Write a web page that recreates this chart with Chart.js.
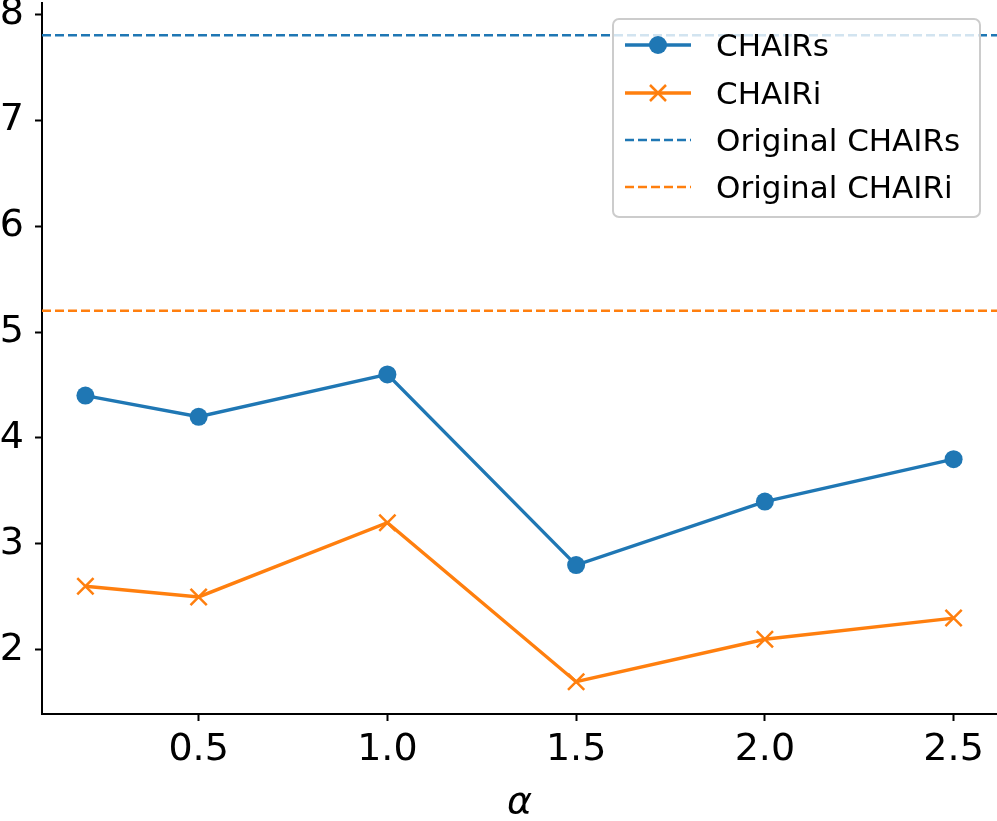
<!DOCTYPE html>
<html>
<head>
<meta charset="utf-8">
<script src="https://cdn.jsdelivr.net/npm/chart.js@4.4.1/dist/chart.umd.min.js"></script>
<style>
  html, body { margin: 0; padding: 0; background: #fff; }
  canvas { display: block; }
</style>
</head>
<body>
<canvas id="grafico" width="997" height="821"></canvas>
<script>
// datos
const alphas = [0.2, 0.5, 1.0, 1.5, 2.0, 2.5];
const chairS = [4.4, 4.2, 4.6, 2.8, 3.4, 3.8];
const chairI = [2.6, 2.5, 3.2, 1.7, 2.1, 2.3];
const originalS = 7.8;
const originalI = 5.2;
const xTicks = [0.5, 1.0, 1.5, 2.0, 2.5];
const yTicks = [2, 3, 4, 5, 6, 7, 8];

const azul = "#1f77b4";
const naranja = "#ff7f0e";

// margenes tipo matplotlib (5%)
const xMin = 0.085, xMax = 2.615;
const yMin = 1.395, yMax = 8.105;

const puntos = (xs, ys) => xs.map((x, i) => ({ x: x, y: ys[i] }));
const horizontal = (v) => [{ x: xMin, y: v }, { x: xMax, y: v }];

// leyenda dibujada a mano, estilo matplotlib
const leyenda = {
  id: "leyenda",
  afterDraw(chart) {
    const ctx = chart.ctx;
    const x0 = 613, y0 = 19, w = 367, h = 198, r = 6;
    ctx.save();
    ctx.beginPath();
    ctx.roundRect(x0, y0, w, h, r);
    ctx.fillStyle = "rgba(255,255,255,0.8)";
    ctx.fill();
    ctx.lineWidth = 2;
    ctx.strokeStyle = "#cccccc";
    ctx.stroke();

    const filas = [45, 93, 140, 187];
    chart.data.datasets.forEach((ds, i) => {
      const cy = filas[i];
      ctx.beginPath();
      ctx.setLineDash(ds.borderDash || []);
      ctx.strokeStyle = ds.borderColor;
      ctx.lineWidth = ds.borderWidth;
      ctx.moveTo(625, cy);
      ctx.lineTo(691, cy);
      ctx.stroke();
      ctx.setLineDash([]);
      if (ds.pointStyle === "circle") {
        ctx.beginPath();
        ctx.arc(658, cy, 9, 0, Math.PI * 2);
        ctx.fillStyle = ds.borderColor;
        ctx.fill();
      } else if (ds.pointStyle === "crossRot") {
        ctx.beginPath();
        ctx.lineWidth = 2.5;
        ctx.moveTo(650, cy - 8); ctx.lineTo(666, cy + 8);
        ctx.moveTo(650, cy + 8); ctx.lineTo(666, cy - 8);
        ctx.stroke();
      }
      ctx.fillStyle = "#000";
      ctx.font = "31px 'DejaVu Sans'";
      ctx.textBaseline = "alphabetic";
      ctx.fillText(ds.label, 716, cy + 11);
    });
    ctx.restore();
  }
};

const ctx = document.getElementById("grafico").getContext("2d");

new Chart(ctx, {
  type: "line",
  data: {
    datasets: [
      {
        label: "CHAIRs",
        data: puntos(alphas, chairS),
        borderColor: azul,
        backgroundColor: azul,
        borderWidth: 3.4,
        pointStyle: "circle",
        pointRadius: 9,
        pointBorderWidth: 0,
        order: 4
      },
      {
        label: "CHAIRi",
        data: puntos(alphas, chairI),
        borderColor: naranja,
        backgroundColor: naranja,
        borderWidth: 3.4,
        pointStyle: "crossRot",
        pointRadius: 11.5,
        pointBorderWidth: 2.5,
        order: 3
      },
      {
        label: "Original CHAIRs",
        data: horizontal(originalS),
        borderColor: azul,
        borderWidth: 2.4,
        borderDash: [9, 4],
        pointRadius: 0,
        order: 2
      },
      {
        label: "Original CHAIRi",
        data: horizontal(originalI),
        borderColor: naranja,
        borderWidth: 2.4,
        borderDash: [9, 4],
        pointRadius: 0,
        order: 1
      }
    ]
  },
  options: {
    responsive: false,
    animation: false,
    devicePixelRatio: 1,
    layout: { autoPadding: false, padding: { top: 3, right: 0, left: 0, bottom: 0 } },
    plugins: {
      legend: { display: false },
      tooltip: { enabled: false }
    },
    scales: {
      x: {
        type: "linear",
        min: xMin,
        max: xMax,
        afterBuildTicks: (s) => { s.ticks = xTicks.map(v => ({ value: v })); },
        afterFit: (s) => {
          s.height = 107;
          s.paddingLeft = 0; s.paddingRight = 0;
        },
        ticks: {
          color: "#000",
          font: { family: "DejaVu Sans", size: 38 },
          padding: 6,
          maxRotation: 0,
          callback: (v) => Number(v).toFixed(1)
        },
        grid: {
          drawOnChartArea: false,
          tickLength: 7,
          tickColor: "#000",
          tickWidth: 2
        },
        border: { display: true, color: "#000", width: 2 },
        title: {
          display: true,
          text: "α",
          color: "#000",
          font: { family: "DejaVu Sans", size: 38, style: "italic" },
          padding: { top: 0, bottom: -5 }
        }
      },
      y: {
        min: yMin,
        max: yMax,
        afterBuildTicks: (s) => { s.ticks = yTicks.map(v => ({ value: v })); },
        afterFit: (s) => {
          s.width = 42;
          s.paddingTop = 0; s.paddingBottom = 0;
        },
        ticks: {
          color: "#000",
          font: { family: "DejaVu Sans", size: 38 },
          padding: 11
        },
        grid: {
          drawOnChartArea: false,
          tickLength: 7,
          tickColor: "#000",
          tickWidth: 2
        },
        border: { display: true, color: "#000", width: 2 }
      }
    }
  },
  plugins: [leyenda]
});
</script>
</body>
</html>
